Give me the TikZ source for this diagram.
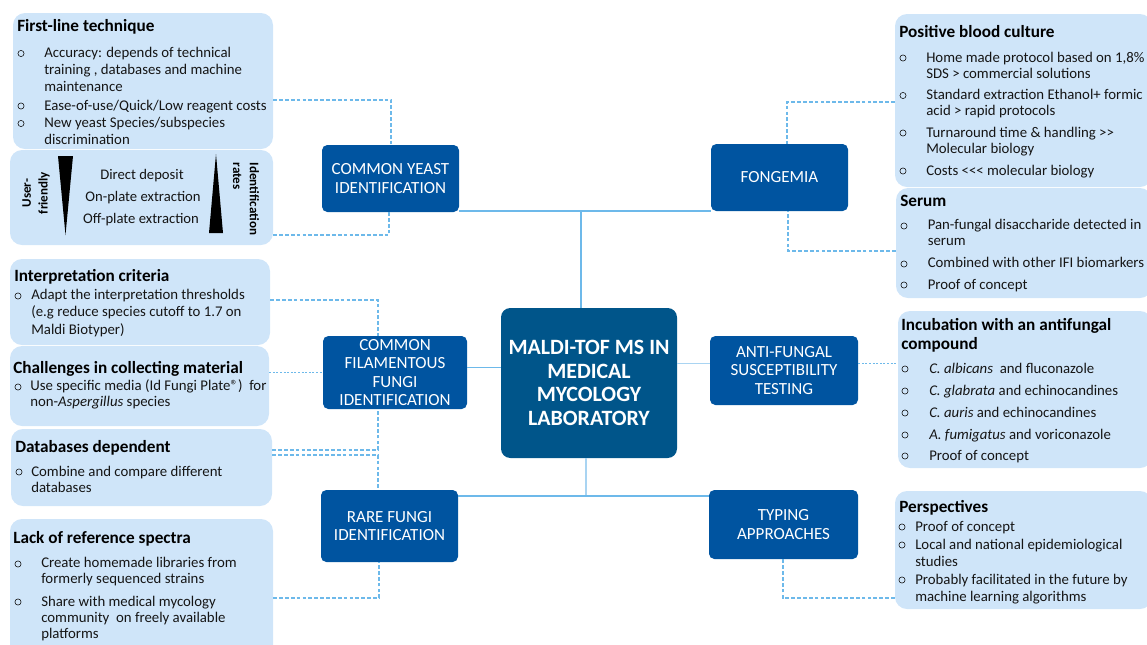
\documentclass[tikz,border=0pt]{standalone}
\usepackage{fontspec}
\setmainfont{Carlito}
\definecolor{lightbox}{HTML}{CFE5F9}
\definecolor{darkbox}{HTML}{0054A0}
\definecolor{centrebox}{HTML}{00558A}
\definecolor{linkblue}{HTML}{6DB9EA}
\definecolor{linkpale}{HTML}{A9D4F2}
\definecolor{ink}{HTML}{151515}
\tikzset{
  panelbox/.style={fill=lightbox,rounded corners=9pt,inner sep=0pt},
  catbox/.style={fill=darkbox,rounded corners=4pt,inner sep=0pt,text=white,align=center,font=\fontsize{12.75}{13.9}\selectfont},
  hubbox/.style={fill=centrebox,rounded corners=7pt,inner sep=0pt,text=white,align=center,font=\fontsize{16.4}{17.6}\selectfont\bfseries},
  solidlink/.style={draw=linkblue,line width=1.2pt},
  thinlink/.style={draw=linkblue,line width=0.8pt},
  palelink/.style={draw=linkpale,line width=0.9pt},
  dashlink/.style={draw=linkblue,line width=0.9pt,dash pattern=on 2.8pt off 1.6pt},
  dotlink/.style={draw=linkblue,line width=0.7pt,dash pattern=on 1.5pt off 1.2pt},
  bulletmark/.style={circle,draw=ink,line width=0.45pt,minimum size=4.6pt,inner sep=0pt},
  itemtext/.style={anchor=base west,inner sep=0pt,text=ink},
  headtext/.style={anchor=base west,inner sep=0pt,text=black,font=\fontsize{12.9}{14}\selectfont\bfseries},
  plaintext/.style={inner sep=0pt,text=ink,font=\fontsize{11}{13}\selectfont},
  sidetext/.style={inner sep=0pt,text=black,font=\fontsize{9.8}{12.5}\selectfont\bfseries},
}
% style, name, x1, y1, x2, y2, text
\newcommand\mkbox[7]{%
  \pgfmathsetlengthmacro\boxw{(#5-#3)*0.75}%
  \pgfmathsetlengthmacro\boxh{(#6-#4)*0.75}%
  \node[#1,minimum width=\boxw,minimum height=\boxh] (#2) at ({(#3+#5)/2},{(#4+#6)/2}) {#7};}
% name, bullet x, bullet y, text x, baseline y, leading, text
\newcommand\itm[7]{%
  \node[bulletmark] (#1b) at (#2,#3) {};
  \node[itemtext] (#1) at (#4,#5) {\fontsize{11.1}{#6}\selectfont\begin{tabular}[t]{@{}l@{}}#7\end{tabular}};}
\newcommand\ttl[4]{\node[headtext] (#1) at (#2,#3) {#4};}
\begin{document}
\begin{tikzpicture}[x=0.75pt,y=-0.75pt]
\useasboundingbox (0,0) rectangle (1147,644);
\clip (0,0) rectangle (1147,644);
\mkbox{panelbox}{first}{13}{13}{273}{149}{}
\mkbox{panelbox}{method}{10}{150}{273}{245}{}
\mkbox{panelbox}{interp}{10}{259}{270}{345}{}
\mkbox{panelbox}{collect}{10}{346}{269}{426}{}
\mkbox{panelbox}{datab}{11}{429}{272}{506}{}
\mkbox{panelbox}{lack}{10}{519}{273}{660}{}
\mkbox{panelbox}{blood}{895}{14}{1152}{187}{}
\mkbox{panelbox}{serum}{896}{188}{1152}{298}{}
\mkbox{panelbox}{incub}{898}{311}{1152}{468}{}
\mkbox{panelbox}{persp}{895}{491}{1152}{609}{}
\mkbox{catbox}{yeast}{322}{145}{459}{212}{COMMON YEAST\\IDENTIFICATION}
\mkbox{catbox}{filam}{323}{336}{467}{409}{COMMON\\FILAMENTOUS\\FUNGI\\IDENTIFICATION}
\mkbox{catbox}{rare}{321}{490}{458}{562}{RARE FUNGI\\IDENTIFICATION}
\mkbox{catbox}{fong}{711}{144}{848}{211}{FONGEMIA}
\mkbox{catbox}{anti}{710}{336}{858}{405}{ANTI-FUNGAL\\SUSCEPTIBILITY\\TESTING}
\mkbox{catbox}{typing}{709}{490}{858}{559}{TYPING\\APPROACHES}
\mkbox{hubbox}{hub}{501}{308}{677}{458}{MALDI-TOF MS IN\\MEDICAL\\MYCOLOGY\\LABORATORY}
% solid links
\draw[thinlink] (yeast.east |- 0,211) -- (fong.west |- 0,211);
\draw[solidlink] (581,211) -- (581,0 |- hub.north);
\draw[thinlink] (filam.east |- 0,367.5) -- (hub.west |- 0,367.5);
\draw[palelink] (hub.east |- 0,363.5) -- (anti.west |- 0,363.5);
\draw[palelink] (586,0 |- hub.south) -- (586,496);
\draw[thinlink] (rare.east |- 0,496) -- (typing.west |- 0,496);
% dashed links
\draw[dashlink] (first.east |- 0,100) -| (391,0 |- yeast.north);
\draw[dashlink] (method.east |- 0,235) -| (389,0 |- yeast.south);
\draw[dashlink] (interp.east |- 0,300) -| (378,0 |- filam.north);
\draw[dotlink] (collect.east |- 0,372) -- (filam.west |- 0,372);
\draw[dashlink] (datab.east |- 0,450) -| (378,0 |- filam.south);
\draw[dashlink] (datab.east |- 0,455) -| (378,0 |- rare.north);
\draw[dashlink] (lack.east |- 0,598) -| (379,0 |- rare.south);
\draw[dashlink] (blood.west |- 0,102) -| (787,0 |- fong.north);
\draw[dashlink] (serum.west |- 0,251) -| (788,0 |- fong.south);
\draw[dotlink] (anti.east |- 0,363) -- (incub.west |- 0,363);
\draw[dashlink] (persp.west |- 0,598) -| (783,0 |- typing.south);
% First-line technique
\ttl{firstt}{17}{31}{First-line technique}
\itm{f1}{21}{53.5}{44}{57}{13.1pt}{Accuracy: depends of technical\\training , databases and machine\\maintenance}
\itm{f2}{21}{106}{44}{110}{13.1pt}{Ease-of-use/Quick/Low reagent costs}
\itm{f3}{21}{123.5}{44}{127}{13.1pt}{New yeast Species/subspecies\\discrimination}
% Deposit methods
\fill[black] (58,156) -- (73,156) -- (65.5,235) -- cycle;
\fill[black] (216,154) -- (223,233) -- (209,233) -- cycle;
\node[sidetext,rotate=90,align=center] (userf) at (36,193) {User-\\friendly};
\node[sidetext,rotate=-90,align=left] (idrates) at (246,199) {Identification\\rates};
\node[plaintext,anchor=base] (m1) at (142,179) {Direct deposit};
\node[plaintext,anchor=base] (m2) at (143,201) {On-plate extraction};
\node[plaintext,anchor=base] (m3) at (141,223) {Off-plate extraction};
% Interpretation
\ttl{interpt}{14}{281}{Interpretation criteria}
\itm{i1}{18}{296}{31}{299.3}{13.2pt}{Adapt the interpretation thresholds\\(e.g reduce species cutoff to 1.7 on\\Maldi Biotyper)}
% Challenges
\ttl{collectt}{13}{373}{Challenges in collecting material}
\itm{c1}{18}{387}{30}{390}{12pt}{Use specific media (Id Fungi Plate®)\ \ for\\non-\textit{Aspergillus} species}
% Databases
\ttl{databt}{15}{452}{Databases dependent}
\itm{d1}{19}{472}{31}{476}{12pt}{Combine and compare different\\databases}
% Lack
\ttl{lackt}{13}{543}{Lack of reference spectra}
\itm{l1}{18}{564}{41}{567}{12pt}{Create homemade libraries from\\formerly sequenced strains}
\itm{l2}{18}{602}{41}{606}{12pt}{Share with medical mycology\\community\ \ on freely available\\platforms}
% Positive blood culture
\ttl{bloodt}{899}{37}{Positive blood culture}
\itm{b1}{903}{58}{926}{62}{12pt}{Home made protocol based on 1,8\%\\SDS > commercial solutions}
\itm{b2}{903}{95.5}{926}{99}{12pt}{Standard extraction Ethanol+ formic\\acid > rapid protocols}
\itm{b3}{903}{133}{926}{137}{12pt}{Turnaround time \& handling >{}>\\Molecular biology}
\itm{b4}{903}{171}{926}{175}{12pt}{Costs <{}<{}< molecular biology}
% Serum
\ttl{serumt}{900}{206}{Serum}
\itm{s1}{904}{226}{927.5}{229}{12pt}{Pan-fungal disaccharide detected in\\serum}
\itm{s2}{904}{264}{927.5}{267}{12pt}{Combined with other IFI biomarkers}
\itm{s3}{904}{285}{927.5}{289}{12pt}{Proof of concept}
% Incubation
\node[headtext,align=left,anchor=north west,font=\fontsize{12.9}{14}\selectfont\bfseries] (incubt) at (901,318) {Incubation with an antifungal\\compound};
\itm{n1}{905}{369}{929}{373}{12pt}{\textit{C. albicans}\ \ and fluconazole}
\itm{n2}{905}{391}{929}{395}{12pt}{\textit{C. glabrata} and echinocandines}
\itm{n3}{905}{413}{929}{417}{12pt}{\textit{C. auris} and echinocandines}
\itm{n4}{905}{435}{929}{439}{12pt}{\textit{A. fumigatus} and voriconazole}
\itm{n5}{905}{456}{929}{460}{12pt}{Proof of concept}
% Perspectives
\ttl{perspt}{899}{512}{Perspectives}
\itm{p1}{902}{527}{915}{531}{13.2pt}{Proof of concept}
\itm{p2}{902}{545}{915}{549}{13.2pt}{Local and national epidemiological\\studies}
\itm{p3}{902}{580}{915}{584}{13.2pt}{Probably facilitated in the future by\\machine learning algorithms}
\end{tikzpicture}
\end{document}
